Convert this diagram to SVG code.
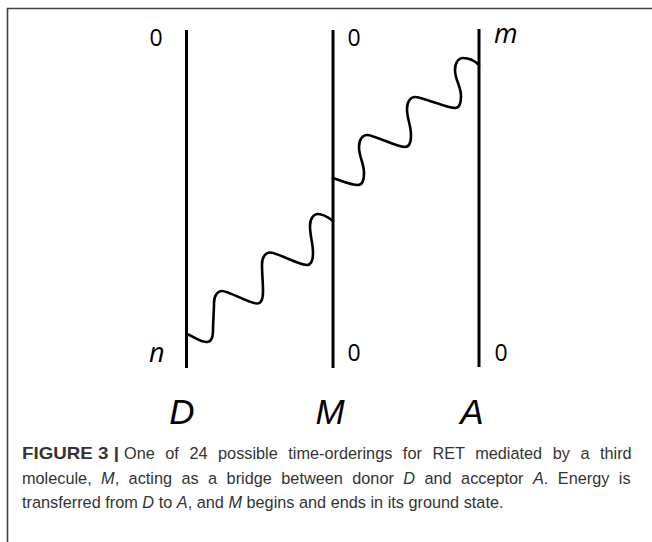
<svg xmlns="http://www.w3.org/2000/svg" width="652" height="542" viewBox="0 0 652 542">
<style>
.axis{stroke:#000;stroke-width:3;fill:none}
.wave{stroke:#000;stroke-width:2.6;fill:none;stroke-linecap:round;stroke-linejoin:round}
.num{font-family:"Open Sans","Liberation Sans",sans-serif;font-size:23px;fill:#000;text-anchor:middle}
.idx{font-family:"Open Sans","Liberation Sans",sans-serif;font-size:27px;font-style:italic;fill:#000}
.lbl{font-family:"Liberation Sans",Arial,sans-serif;font-size:35px;font-style:italic;fill:#000;text-anchor:middle}
.cap{font-family:"Liberation Sans",Arial,sans-serif;font-size:16.3px;fill:#333}
.frame{stroke:#444;stroke-width:1.6;fill:none}
</style>
<rect width="652" height="542" fill="#fff"/>
<path class="frame" d="M7.5 542 V8.5 H652"/>
<g id="node-D">
<line class="axis" x1="186.5" y1="30" x2="186.5" y2="368"/>
<text class="num" x="156" y="46">0</text>
<text class="idx" x="149" y="362">n</text>
<text class="lbl" x="182" y="424">D</text>
</g>
<g id="node-M">
<line class="axis" x1="333" y1="30" x2="333" y2="368"/>
<text class="num" x="354" y="46">0</text>
<text class="num" x="354" y="361">0</text>
<text class="lbl" x="330" y="424">M</text>
</g>
<g id="node-A">
<line class="axis" x1="479" y1="29" x2="479" y2="367"/>
<text class="idx" x="494" y="43">m</text>
<text class="num" x="501" y="361">0</text>
<text class="lbl" x="472" y="424">A</text>
</g>
<g id="connectors">
<path class="wave" d="M187 334 C193 336 200 342 207 342 C211 342 213 338 213 330 C213 320 214 313 214 303 C214 295 218 291 222 291 C229 291 249 303.5 257 303.5 C261 303.5 263 299.5 263 291.5 C263 281.5 262 274.5 262 264.5 C262 256.5 266 252.5 270 252.5 C277 252.5 299 265 307 265 C311 265 313 261 313 253 C313 243 310 236 310 226 C310 218 314 214 318 214 C324 214 329 218 333 221"/>
<path class="wave" d="M333 178 C340 180 350 185 358 185 C362 185 364 181 364 173 C364 163 359 157 359 147 C359 139 363 135 367 135 C374 135 397 147 405 147 C409 147 411 143 411 135 C411 125 407 119 407 109 C407 101 411 97 415 97 C422 97 447 108 455 108 C459 108 461 104 461 96 C461 86 455 80 455 70 C455 62 459 58 463 58 C469 58 475 61 479 65"/>
</g>
<g id="caption">
<text class="cap" x="22" y="459" font-weight="bold" font-size="17.5px" textLength="97" lengthAdjust="spacingAndGlyphs">FIGURE 3 |</text>
<text class="cap" x="124" y="459" word-spacing="6">One of 24 possible time-orderings for RET mediated by a third</text>
<text class="cap" x="22" y="484" word-spacing="4.9">molecule, <tspan font-style="italic">M</tspan>, acting as a bridge between donor <tspan font-style="italic">D</tspan> and acceptor <tspan font-style="italic">A</tspan>. Energy is</text>
<text class="cap" x="22" y="508">transferred from <tspan font-style="italic">D</tspan> to <tspan font-style="italic">A</tspan>, and <tspan font-style="italic">M</tspan> begins and ends in its ground state.</text>
</g>
</svg>
